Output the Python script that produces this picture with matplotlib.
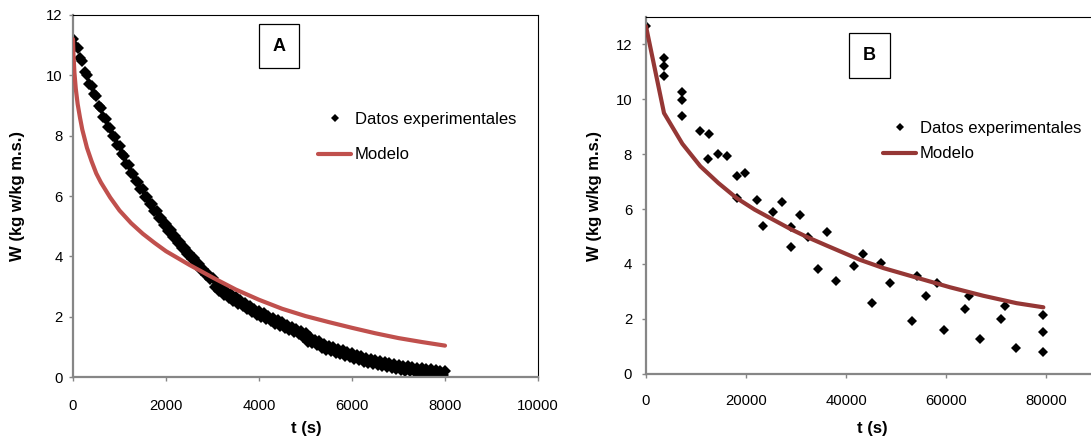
import matplotlib
matplotlib.use("Agg")
import matplotlib.pyplot as plt

plt.rcParams["font.family"] = ["Liberation Sans", "DejaVu Sans"]

RED_A = "#C0504D"
RED_B = "#953735"
AXIS_GREY = "#868686"

# ---------------- Panel A data ----------------
# replicate 1 (t in s, W in kg w/kg m.s.)
tA1 = [0, 100, 200, 300, 400, 500, 600, 700, 800, 900,
       1000, 1100, 1200, 1300, 1400, 1500, 1600, 1700, 1800, 1900,
       2000, 2100, 2200, 2300, 2400, 2500, 2600, 2700, 2800, 2900,
       3000, 3100, 3200, 3300, 3400, 3500, 3600, 3700, 3800, 3900,
       4000, 4100, 4200, 4300, 4400, 4500, 4600, 4700, 4800, 4900,
       5000, 5100, 5200, 5300, 5400, 5500, 5600, 5700, 5800, 5900,
       6000, 6100, 6200, 6300, 6400, 6500, 6600, 6700, 6800, 6900,
       7000, 7100, 7200, 7300, 7400, 7500, 7600, 7700, 7800, 7900, 8000]
wA1 = [11.19, 10.91, 10.46, 10.01, 9.66, 9.31, 8.91, 8.56, 8.26, 7.97,
       7.66, 7.34, 7.03, 6.74, 6.48, 6.22, 5.96, 5.72, 5.50, 5.28,
       5.06, 4.86, 4.66, 4.47, 4.29, 4.11, 3.93, 3.76, 3.59, 3.43,
       3.28, 3.06, 2.94, 2.84, 2.74, 2.64, 2.54, 2.45, 2.36, 2.27,
       2.19, 2.11, 2.03, 1.96, 1.88, 1.81, 1.74, 1.67, 1.60, 1.53,
       1.46, 1.31, 1.24, 1.18, 1.08, 1.03, 0.98, 0.93, 0.88, 0.83,
       0.78, 0.74, 0.69, 0.63, 0.59, 0.56, 0.53, 0.50, 0.47, 0.44,
       0.41, 0.38, 0.35, 0.33, 0.31, 0.29, 0.27, 0.25, 0.23, 0.21, 0.19]
# replicate 2
tA2 = [50, 150, 250, 350, 450, 550, 650, 750, 850, 950,
       1050, 1150, 1250, 1350, 1450, 1550, 1650, 1750, 1850, 1950,
       2050, 2150, 2250, 2350, 2450, 2550, 2650, 2750, 2850, 2950,
       3050, 3150, 3250, 3350, 3450, 3550, 3650, 3750, 3850, 3950,
       4050, 4150, 4250, 4350, 4450, 4550, 4650, 4750, 4850, 4950,
       5050, 5150, 5250, 5350, 5450, 5550, 5650, 5750, 5850, 5950,
       6050, 6150, 6250, 6350, 6450, 6550, 6650, 6750, 6850, 6950,
       7050, 7150, 7250, 7350, 7450, 7550, 7650, 7750, 7850, 7950]
wA2 = [10.96, 10.57, 10.12, 9.72, 9.37, 8.99, 8.62, 8.29, 8.00, 7.70,
       7.38, 7.07, 6.77, 6.49, 6.23, 5.97, 5.72, 5.49, 5.27, 5.05,
       4.84, 4.64, 4.45, 4.26, 4.08, 3.90, 3.73, 3.56, 3.39, 3.24,
       2.98, 2.84, 2.73, 2.63, 2.53, 2.43, 2.34, 2.25, 2.16, 2.07,
       1.99, 1.91, 1.84, 1.76, 1.69, 1.62, 1.55, 1.48, 1.41, 1.34,
       1.16, 1.12, 1.05, 0.97, 0.90, 0.85, 0.80, 0.75, 0.70, 0.65,
       0.60, 0.56, 0.50, 0.45, 0.42, 0.39, 0.36, 0.33, 0.30, 0.27,
       0.24, 0.21, 0.19, 0.17, 0.15, 0.13, 0.12, 0.11, 0.10, 0.08]
# model
tA_mod = [0, 10, 30, 60, 100, 150, 200, 300, 400, 500, 600, 800, 1000, 1250,
          1500, 1750, 2000, 2500, 3000, 3500, 4000, 4500, 5000, 5500, 6000,
          6500, 7000, 7500, 8000]
wA_mod = [11.2, 10.7, 10.1, 9.55, 9.05, 8.6, 8.2, 7.6, 7.15, 6.75, 6.45, 5.95, 5.52, 5.1,
          4.75, 4.45, 4.17, 3.72, 3.30, 2.90, 2.56, 2.26, 2.02, 1.82, 1.63,
          1.45, 1.29, 1.16, 1.04]

# ---------------- Panel B data ----------------
tB = [0, 3600, 3600, 3600, 7270, 7270, 7270, 10870, 12670, 12400,
      14470, 16270, 18130, 19870, 18130, 22270, 25330, 27130, 23470, 28930,
      30730, 28930, 32470, 36130, 34330, 38000, 41500, 43330, 46930, 45130,
      48730, 54130, 56000, 53200, 58130, 59600, 64600, 63800, 66800, 71870,
      70930, 74000, 79470, 79470, 79470]
wB = [12.66, 11.49, 11.23, 10.84, 10.26, 9.96, 9.41, 8.86, 8.72, 7.83,
      8.02, 7.92, 7.19, 7.31, 6.40, 6.34, 5.89, 6.24, 5.39, 5.34,
      5.80, 4.61, 5.00, 5.18, 3.82, 3.38, 3.93, 4.37, 4.03, 2.59,
      3.29, 3.57, 2.84, 1.92, 3.30, 1.59, 2.84, 2.36, 1.25, 2.48,
      2.01, 0.93, 2.14, 1.52, 0.80]
tB_mod = [0, 3600, 7270, 10870, 14470, 18130, 21730, 25470, 28930, 32470,
          36130, 42800, 47470, 54130, 60800, 67470, 74130, 79470]
wB_mod = [12.66, 9.50, 8.38, 7.56, 6.95, 6.40, 5.98, 5.61, 5.27, 4.96,
          4.67, 4.15, 3.85, 3.50, 3.15, 2.84, 2.57, 2.42]

LEGEND_LABELS = ["Datos experimentales", "Modelo"]


def style(ax, xpad, ypad):
    for s in ["left", "bottom"]:
        ax.spines[s].set_color(AXIS_GREY)
        ax.spines[s].set_linewidth(1.6)
    for s in ["top", "right"]:
        ax.spines[s].set_color("black")
        ax.spines[s].set_linewidth(0.8)
    ax.tick_params(direction="out", length=3, width=1, color=AXIS_GREY,
                   labelsize=10.7, labelcolor="black")
    ax.tick_params(axis="x", pad=xpad)
    ax.tick_params(axis="y", pad=ypad)


fig = plt.figure(figsize=(10.91, 4.44), dpi=100)

# ---- A ----
axA = fig.add_axes([73 / 1091, 67 / 444, 465 / 1091, 362 / 444])
axA.plot(tA1, wA1, ls="none", marker="D", ms=6, mew=0, color="black",
         label=LEGEND_LABELS[0], zorder=2)
axA.plot(tA2, wA2, ls="none", marker="D", ms=6, mew=0, color="black", zorder=2)
axA.plot(tA_mod, wA_mod, color=RED_A, lw=3, solid_capstyle="round",
         label=LEGEND_LABELS[1], zorder=3)
axA.set_xlim(0, 10000)
axA.set_ylim(0, 12)
axA.set_xticks([0, 2000, 4000, 6000, 8000, 10000])
axA.set_yticks([0, 2, 4, 6, 8, 10, 12])
style(axA, 13, 4.3)
axA.legend(loc="center left", bbox_to_anchor=(318 / 1091, 307 / 444),
           bbox_transform=fig.transFigure, frameon=False, fontsize=12,
           borderpad=0, borderaxespad=0, handlelength=2.0, handletextpad=0.2,
           labelspacing=1.25, numpoints=1, markerscale=0.75)

# ---- B ----
axB = fig.add_axes([646 / 1091, (444 - 373.7) / 444, 450 / 1091, 356.7 / 444])
axB.plot(tB, wB, ls="none", marker="D", ms=5.5, mew=0, color="black",
         label=LEGEND_LABELS[0], zorder=2)
axB.plot(tB_mod, wB_mod, color=RED_B, lw=3, solid_capstyle="round",
         label=LEGEND_LABELS[1], zorder=3)
axB.set_xlim(0, 90000)
axB.set_ylim(0, 13)
axB.set_xticks([0, 20000, 40000, 60000, 80000])
axB.set_yticks([0, 2, 4, 6, 8, 10, 12])
style(axB, 11.5, 7)
axB.legend(loc="center left", bbox_to_anchor=(883 / 1091, 303 / 444),
           bbox_transform=fig.transFigure, frameon=False, fontsize=12,
           borderpad=0, borderaxespad=0, handlelength=2.0, handletextpad=0.2,
           labelspacing=0.65, numpoints=1, markerscale=0.8)

# axis titles
for xc in (18 / 1091, 595 / 1091):
    fig.text(xc, 0.5586, "W (kg w/kg m.s.)", rotation=90, ha="center", va="center",
             fontsize=12, fontweight="bold")
for xc in (306 / 1091, 872 / 1091):
    fig.text(xc, 0.0338, "t (s)", ha="center", va="center", fontsize=12,
             fontweight="bold")

# panel tags
box = dict(boxstyle="square,pad=0.75", facecolor="white", edgecolor="black", linewidth=0.9)
fig.text(279 / 1091, 1 - 46 / 444, "A", ha="center", va="center", fontsize=13,
         fontweight="bold", bbox=box)
fig.text(869.5 / 1091, 1 - 55.5 / 444, "B", ha="center", va="center", fontsize=13,
         fontweight="bold", bbox=box)

fig.savefig("out.png", dpi=100)
